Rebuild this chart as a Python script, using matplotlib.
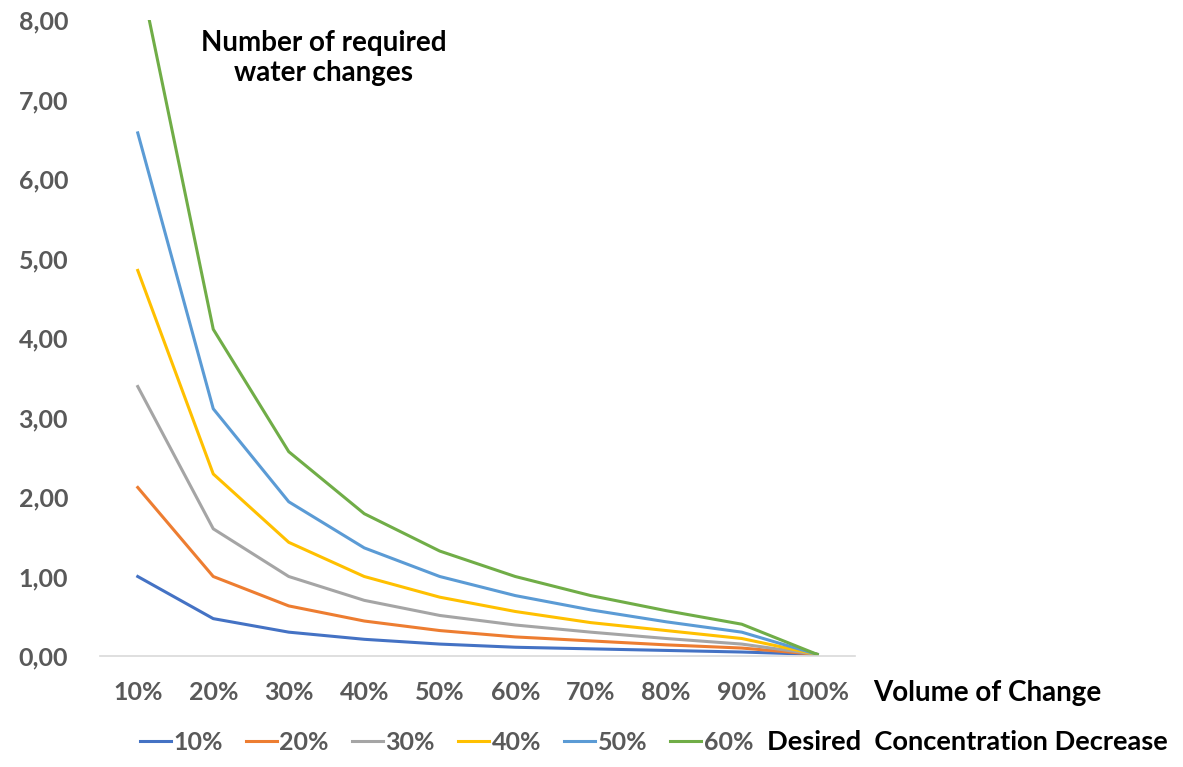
import matplotlib
matplotlib.use("Agg")
import matplotlib.pyplot as plt

volume = ["10%", "20%", "30%", "40%", "50%", "60%", "70%", "80%", "90%", "100%"]
series_names = ["10%", "20%", "30%", "40%", "50%", "60%"]
s10 = [1.00, 0.47, 0.30, 0.21, 0.15, 0.11, 0.09, 0.07, 0.05, 0.02]
s20 = [2.12, 1.00, 0.63, 0.44, 0.32, 0.24, 0.19, 0.14, 0.10, 0.02]
s30 = [3.39, 1.60, 1.00, 0.70, 0.51, 0.39, 0.30, 0.22, 0.15, 0.02]
s40 = [4.85, 2.29, 1.43, 1.00, 0.74, 0.56, 0.42, 0.32, 0.22, 0.02]
s50 = [6.58, 3.11, 1.94, 1.36, 1.00, 0.76, 0.58, 0.43, 0.30, 0.02]
s60 = [8.70, 4.11, 2.57, 1.79, 1.32, 1.00, 0.76, 0.57, 0.40, 0.02]
series = [s10, s20, s30, s40, s50, s60]
colors = ["#4472C4", "#ED7D31", "#A5A5A5", "#FFC000", "#5B9BD5", "#70AD47"]
yticks = [0, 1, 2, 3, 4, 5, 6, 7, 8]
ytick_labels = ["0,00", "1,00", "2,00", "3,00", "4,00", "5,00", "6,00", "7,00", "8,00"]

plt.rcParams['font.family'] = ['Lato', 'DejaVu Sans']

W, H = 1183, 767
fig = plt.figure(figsize=(W / 100, H / 100), dpi=100)
ax = fig.add_axes([100 / W, 1 - 656 / H, 755 / W, 636 / H])

x = list(range(len(volume)))
lines = []
for name, vals, c in zip(series_names, series, colors):
    ln, = ax.plot(x, vals, color=c, lw=2.2, label=name, solid_joinstyle='round')
    lines.append(ln)

ax.set_xlim(-0.5, len(volume) - 0.5)
ax.set_ylim(0, 8)
ax.set_xticks(x)
ax.set_xticklabels(volume)
ax.set_yticks(yticks)
ax.set_yticklabels(ytick_labels)
for s in ["top", "right", "left"]:
    ax.spines[s].set_visible(False)
ax.spines["bottom"].set_color("#D9D9D9")
ax.spines["bottom"].set_linewidth(1.2)
ax.tick_params(axis="both", length=0, labelsize=18, labelcolor="#595959")
ax.tick_params(axis="x", pad=18)
ax.tick_params(axis="y", pad=23)
for lab in ax.get_xticklabels() + ax.get_yticklabels():
    lab.set_fontweight("bold")

fig.text(324 / W, 1 - 58 / H, "Number of required\nwater changes", ha="center", va="center",
         fontsize=20, fontweight="bold", color="black", linespacing=1.2)
fig.text(873 / W, 1 - 693 / H, "Volume of Change", ha="left", va="center",
         fontsize=20, fontweight="bold", color="black")
fig.text(767 / W, 1 - 742 / H, "Desired  Concentration Decrease", ha="left", va="center",
         fontsize=19.6, fontweight="bold", color="black")

leg = fig.legend(handles=lines, labels=series_names, loc="center left",
                 bbox_to_anchor=(140 / W, 1 - 742 / H), ncol=6, frameon=False,
                 borderpad=0, borderaxespad=0,
                 handlelength=1.24, handletextpad=0.1, columnspacing=0.92,
                 prop={"size": 18, "weight": "bold"})
for t in leg.get_texts():
    t.set_color("#595959")

fig.savefig("out.png", dpi=100)
